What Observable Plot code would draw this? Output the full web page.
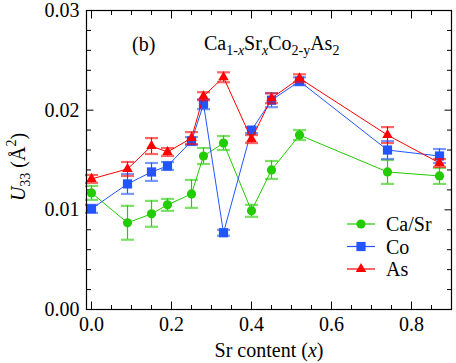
<!DOCTYPE html>
<html>
<head>
<meta charset="utf-8">
<script src="https://cdn.jsdelivr.net/npm/d3@7"></script>
<script src="https://cdn.jsdelivr.net/npm/@observablehq/plot@0.6"></script>
</head>
<body style="margin:0">
<div id="chart"></div>
<script>
// ---- data ----
const srContent = [0, 0.09, 0.15, 0.19, 0.25, 0.28, 0.33, 0.40, 0.45, 0.52, 0.74, 0.87];
const caSr    = [0.0117, 0.0087, 0.0096, 0.0105, 0.0116, 0.0154, 0.0167, 0.0099, 0.0140, 0.0175, 0.0138, 0.0134];
const caSrErr = [0.0007, 0.0017, 0.0013, 0.0006, 0.0014, 0.0008, 0.0007, 0.0006, 0.0009, 0.0005, 0.0012, 0.0008];
const co      = [0.0101, 0.0126, 0.0138, 0.0144, 0.0169, 0.0206, 0.0077, 0.0180, 0.0210, 0.0229, 0.0160, 0.0154];
const coErr   = [0.0004, 0.0010, 0.0009, 0.0004, 0.0004, 0.0005, 0.0003, 0.0003, 0.0007, 0.0004, 0.0009, 0.0007];
const asVals  = [0.0131, 0.0141, 0.0164, 0.0158, 0.0172, 0.0214, 0.0233, 0.0171, 0.0212, 0.0232, 0.0175, 0.0147];
const asErr   = [0.0004, 0.0007, 0.0008, 0.0004, 0.0006, 0.0004, 0.0005, 0.0004, 0.0005, 0.0004, 0.0008, 0.0004];

const seriesNames = ["Ca/Sr", "Co", "As"];
const xMajorTicks = [0, 0.2, 0.4, 0.6, 0.8];
const xMinorTicks = [0.05, 0.1, 0.15, 0.25, 0.3, 0.35, 0.45, 0.5, 0.55, 0.65, 0.7, 0.75, 0.85];
const yMajorTicks = [0, 0.01, 0.02, 0.03];
const yMinorTicks = [0.002, 0.004, 0.006, 0.008, 0.012, 0.014, 0.016, 0.018, 0.022, 0.024, 0.026, 0.028];

// ---- styling ----
const colors = {"Ca/Sr": "#22cc00", "Co": "#2255ff", "As": "#ff0000"};
const symbols = {"Ca/Sr": "circle", "Co": "square", "As": "triangle"};
const radii = {"Ca/Sr": 4.6, "Co": 5.2, "As": 3.9};
const FONT = "Times New Roman";

const values = {"Ca/Sr": [caSr, caSrErr], "Co": [co, coErr], "As": [asVals, asErr]};
const rows = {};
for (const s of seriesNames) {
  rows[s] = srContent.map((x, i) => ({x, v: values[s][0][i], e: values[s][1][i]}));
}

const lineSym = (dx, dy) => ({draw(ctx) { ctx.moveTo(0, 0); ctx.lineTo(dx, dy); }});
const capSym = {draw(ctx) { ctx.moveTo(-6.5, 0); ctx.lineTo(6.5, 0); }};

function seriesMarks(s) {
  const data = rows[s], c = colors[s];
  return [
    Plot.line(data, {x: "x", y: "v", stroke: c, strokeWidth: 1}),
    Plot.ruleX(data, {x: "x", y1: d => d.v - d.e, y2: d => d.v + d.e, stroke: c, strokeWidth: 1.2}),
    Plot.dot(data, {x: "x", y: d => d.v + d.e, symbol: capSym, stroke: c, strokeOpacity: 0.6, strokeWidth: 2.2, fill: "none"}),
    Plot.dot(data, {x: "x", y: d => d.v - d.e, symbol: capSym, stroke: c, strokeOpacity: 0.6, strokeWidth: 2.2, fill: "none"}),
    Plot.dot(data, {x: "x", y: "v", symbol: symbols[s], r: radii[s], fill: c, stroke: "none"})
  ];
}

const tick = (data, channel, anchor, dx, dy) =>
  Plot.dot(data, {[channel]: d => d, frameAnchor: anchor, symbol: lineSym(dx, dy), stroke: "black", strokeWidth: 1, fill: "none"});

const plot = Plot.plot({
  width: 456,
  height: 363,
  marginLeft: 86,
  marginRight: 5,
  marginTop: 10,
  marginBottom: 54,
  style: {fontFamily: FONT, fontSize: "20px"},
  x: {domain: [-0.0125, 0.9]},
  y: {domain: [0, 0.03]},
  marks: [
    Plot.axisX({ticks: xMajorTicks, tickSize: 0, tickPadding: 7, tickFormat: d3.format(".1f"), label: null, fill: "black"}),
    Plot.axisY({ticks: yMajorTicks, tickSize: 0, tickPadding: 7, tickFormat: d3.format(".2f"), label: null, fill: "black"}),
    tick(xMajorTicks, "x", "bottom", 0, -8),
    tick(xMinorTicks, "x", "bottom", 0, -4.5),
    tick(xMajorTicks, "x", "top", 0, 8),
    tick(xMinorTicks, "x", "top", 0, 4.5),
    tick(yMajorTicks, "y", "left", 7, 0),
    tick(yMinorTicks, "y", "left", 4.5, 0),
    tick(yMajorTicks, "y", "right", -7, 0),
    tick(yMinorTicks, "y", "right", -4.5, 0),
    ...seriesMarks("Ca/Sr"),
    ...seriesMarks("Co"),
    ...seriesMarks("As"),
    Plot.frame({stroke: "black", strokeWidth: 1.2})
  ]
});

document.getElementById("chart").appendChild(plot);

// ---- annotations: axis labels, title, legend ----
const svg = d3.select(plot).attr("font-family", FONT);
const ann = svg.append("g").attr("font-family", FONT).attr("fill", "#000").attr("text-anchor", "start").attr("font-size", 20);

const xl = ann.append("text").attr("x", 269).attr("y", 357).attr("text-anchor", "middle");
xl.append("tspan").text("Sr content (");
xl.append("tspan").attr("font-style", "italic").text("x");
xl.append("tspan").text(")");

const yl = ann.append("text").attr("transform", "translate(25,167) rotate(-90)").attr("text-anchor", "middle");
yl.append("tspan").attr("font-style", "italic").text("U");
yl.append("tspan").attr("font-size", 14).attr("dy", 5).text("33");
yl.append("tspan").attr("dy", -5).text(" (Å");
yl.append("tspan").attr("font-size", 14).attr("dy", -9).text("2");
yl.append("tspan").attr("dy", 9).text(")");

ann.append("text").attr("x", 132).attr("y", 51).text("(b)");
const t = ann.append("text").attr("x", 204).attr("y", 50);
t.append("tspan").text("Ca");
t.append("tspan").attr("font-size", 14).attr("dy", 5).text("1-");
t.append("tspan").attr("font-size", 14).attr("font-style", "italic").text("x");
t.append("tspan").attr("dy", -5).text("Sr");
t.append("tspan").attr("font-size", 14).attr("font-style", "italic").attr("dy", 5).text("x");
t.append("tspan").attr("dy", -5).text("Co");
t.append("tspan").attr("font-size", 14).attr("dy", 5).text("2-y");
t.append("tspan").attr("dy", -5).text("As");
t.append("tspan").attr("font-size", 14).attr("dy", 5).text("2");

seriesNames.forEach((s, i) => {
  const g = ann.append("g").attr("transform", `translate(347,${224 + i * 22.5})`);
  g.append("line").attr("x1", 0).attr("x2", 28).attr("y1", 0).attr("y2", 0)
    .attr("stroke", colors[s]).attr("stroke-width", 1.2);
  const sym = {circle: d3.symbolCircle, square: d3.symbolSquare, triangle: d3.symbolTriangle}[symbols[s]];
  g.append("path").attr("transform", "translate(14,0)")
    .attr("d", d3.symbol(sym, radii[s] * radii[s] * Math.PI)())
    .attr("fill", colors[s]);
  g.append("text").attr("x", 39).attr("y", 7).text(s);
});

svg.selectAll("text").attr("font-family", FONT);
</script>
</body>
</html>
